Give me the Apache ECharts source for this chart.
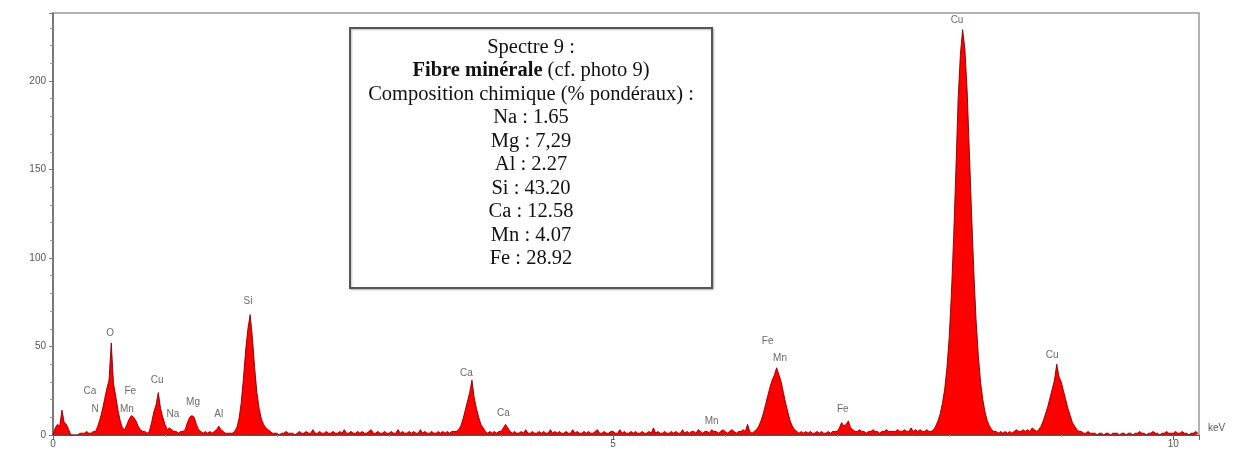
<!DOCTYPE html>
<html>
<head>
<meta charset="utf-8">
<script src="https://cdn.jsdelivr.net/npm/echarts@6/dist/echarts.min.js"></script>
<style>
html,body{margin:0;padding:0;background:#fff;}
#chart{width:1240px;height:455px;}
</style>
</head>
<body>
<div id="chart"></div>
<script>
// EDS spectrum: counts per channel, channel width in keV
const channelWidth = 0.02;
const counts = [
  0,4,6,5,14,7,6,3,0,0,0,0,1,1,1,2,1,1,2,2,5,9,14,20,26,
  31,52,29,22,14,8,4,3,6,9,11,10,8,5,3,2,2,1,2,7,13,17,24,15,10,
  6,3,4,3,2,2,1,2,2,3,7,10,11,10,6,3,2,1,2,1,2,1,2,3,5,
  3,2,1,1,1,1,2,4,9,18,32,48,60,68,55,38,24,15,9,6,4,3,2,1,1,
  1,0,1,1,2,1,1,1,0,1,2,1,1,2,1,1,3,1,1,2,1,1,2,1,1,
  2,1,1,2,1,3,1,1,2,1,1,2,1,2,1,1,2,3,1,1,2,1,1,2,1,
  1,2,1,1,3,1,2,1,1,2,1,2,1,1,3,1,2,1,1,2,1,1,2,1,2,
  1,2,1,2,2,2,3,5,9,14,19,24,31,21,15,10,6,4,2,1,2,1,2,1,2,
  2,4,6,4,2,1,2,1,1,2,1,3,1,1,2,1,1,2,1,2,1,1,3,1,2,
  1,2,1,1,2,1,1,3,1,2,1,1,2,1,2,1,1,2,3,1,1,2,1,1,2,
  2,1,1,3,1,2,1,1,2,1,2,1,1,2,1,1,2,1,4,1,2,1,1,2,1,
  1,2,1,2,1,1,3,1,2,1,2,2,1,3,2,1,2,2,1,3,2,2,1,2,3,
  2,1,2,3,2,1,2,2,3,2,6,2,1,2,3,5,8,12,17,22,27,31,34,38,34,
  30,24,18,13,8,5,3,2,1,2,1,2,1,2,1,1,2,1,2,1,1,2,1,2,2,
  2,4,7,5,6,8,4,3,2,2,3,2,2,1,2,2,3,2,2,1,2,2,3,2,2,
  2,2,3,2,2,3,2,2,4,2,3,2,3,2,2,3,2,2,3,5,8,12,18,26,38,
  55,80,112,150,190,215,229,218,195,160,125,92,65,45,30,20,13,8,5,3,2,2,1,2,1,
  2,1,2,1,2,3,2,2,3,2,3,2,4,3,2,3,5,8,12,16,21,26,31,40,33,
  30,25,20,15,11,7,5,3,2,2,1,1,2,1,1,1,0,1,1,0,1,1,0,1,1,
  1,0,1,1,0,1,1,0,1,1,2,1,1,0,1,1,2,1,1,0,1,1,2,1,1,
  1,2,1,1,2,1,1,0,1,1,2,1
];

// Peak identification labels (keV, counts at label centre)
const peakNames   = ['Ca','N','O','Fe','Mn','Cu','Na','Mg','Al','Si','Ca','Ca','Mn','Fe','Mn','Fe','Cu','Cu'];
const peakKeV     = [0.33,0.375,0.51,0.69,0.66,0.93,1.07,1.25,1.48,1.74,3.69,4.02,5.88,6.38,6.49,7.05,8.07,8.92];
const peakCounts  = [24.5,14.5,57.5,24.5,14.5,31,11.5,18.5,11.5,75.5,35,12.5,8,53,43.5,14.5,234.5,45];

// Axes
const xMin = 0, xMax = 10.23, xInterval = 5;
const yMin = 0, yMax = 238.4, yInterval = 50;
const xUnit = 'keV';

// Annotation box
const boxLines = [
  [{t:'Spectre 9 :', b:false}],
  [{t:'Fibre minérale', b:true},{t:' (cf. photo 9)', b:false}],
  [{t:'Composition chimique (% pondéraux) :', b:false}],
  [{t:'Na : 1.65', b:false}],
  [{t:'Mg : 7,29', b:false}],
  [{t:'Al : 2.27', b:false}],
  [{t:'Si : 43.20', b:false}],
  [{t:'Ca : 12.58', b:false}],
  [{t:'Mn : 4.07', b:false}],
  [{t:'Fe : 28.92', b:false}]
];

const spectrum = counts.map((c, i) => [+(i * channelWidth).toFixed(2), c]);
const labels = peakNames.map((n, i) => [peakKeV[i], peakCounts[i], n]);

const chart = echarts.init(document.getElementById('chart'), null, {renderer: 'canvas'});

const serif = '"Liberation Serif","Times New Roman",serif';
const boxTexts = boxLines.map((parts, i) => ({
  type: 'text',
  x: 531,
  y: 47.5 + i * 23.5,
  style: {
    text: parts.map(p => p.b ? '{b|' + p.t + '}' : '{n|' + p.t + '}').join(''),
    align: 'center', verticalAlign: 'middle',
    fontFamily: serif, fontSize: 20.5, fill: '#111',
    rich: {
      b: {fontFamily: serif, fontSize: 20.5, fontWeight: 'bold', fill: '#111'},
      n: {fontFamily: serif, fontSize: 20.5, fill: '#111'}
    }
  },
  z: 11
}));

chart.setOption({
  animation: false,
  backgroundColor: '#fff',
  grid: {left: 53, right: 41, top: 13, bottom: 20, show: true, borderColor: '#9a9a9a', borderWidth: 1.5},
  xAxis: {
    type: 'value', min: xMin, max: xMax, interval: xInterval,
    axisLine: {show: true, onZero: false, lineStyle: {color: '#555', width: 1}},
    axisTick: {show: true, length: 5, lineStyle: {color: '#666'}},
    minorTick: {show: true, splitNumber: 5, length: 2, lineStyle: {color: '#999'}},
    splitLine: {show: false},
    axisLabel: {
      color: '#555', fontSize: 10, fontFamily: 'Liberation Sans, Arial, sans-serif', margin: 4,
      formatter: v => (Math.abs(v % xInterval) < 1e-9 ? String(v) : '')
    }
  },
  yAxis: {
    type: 'value', min: yMin, max: yMax, interval: yInterval,
    axisLine: {show: true, lineStyle: {color: '#666', width: 1.5}},
    axisTick: {show: true, length: 4, lineStyle: {color: '#777'}},
    minorTick: {show: true, splitNumber: 5, length: 3, lineStyle: {color: '#999'}},
    splitLine: {show: false},
    axisLabel: {
      color: '#555', fontSize: 10, fontFamily: 'Liberation Sans, Arial, sans-serif', margin: 7,
      formatter: v => (Math.abs(v % yInterval) < 1e-9 ? String(v) : '')
    }
  },
  series: [
    {
      type: 'line',
      data: spectrum,
      symbol: 'none',
      lineStyle: {color: '#7a0000', width: 0.9},
      areaStyle: {color: '#ff0000', opacity: 1},
      z: 2
    },
    {
      type: 'scatter',
      data: labels,
      symbol: 'circle',
      symbolSize: 1,
      itemStyle: {color: 'transparent'},
      label: {
        show: true, position: 'inside',
        formatter: p => p.data[2],
        color: '#444', fontSize: 10, fontFamily: 'Liberation Sans, Arial, sans-serif'
      },
      z: 5
    }
  ],
  graphic: [
    {
      type: 'rect',
      shape: {x: 350, y: 28, width: 362, height: 260},
      style: {fill: '#fff', stroke: '#555', lineWidth: 2, shadowBlur: 2, shadowColor: 'rgba(0,0,0,0.25)', shadowOffsetX: 1, shadowOffsetY: 1},
      z: 10
    },
    ...boxTexts,
    {
      type: 'text', x: 1208, y: 428,
      style: {text: xUnit, fontSize: 10, fill: '#555', fontFamily: 'Liberation Sans, Arial, sans-serif', verticalAlign: 'middle'},
      z: 11
    }
  ]
});
</script>
</body>
</html>
